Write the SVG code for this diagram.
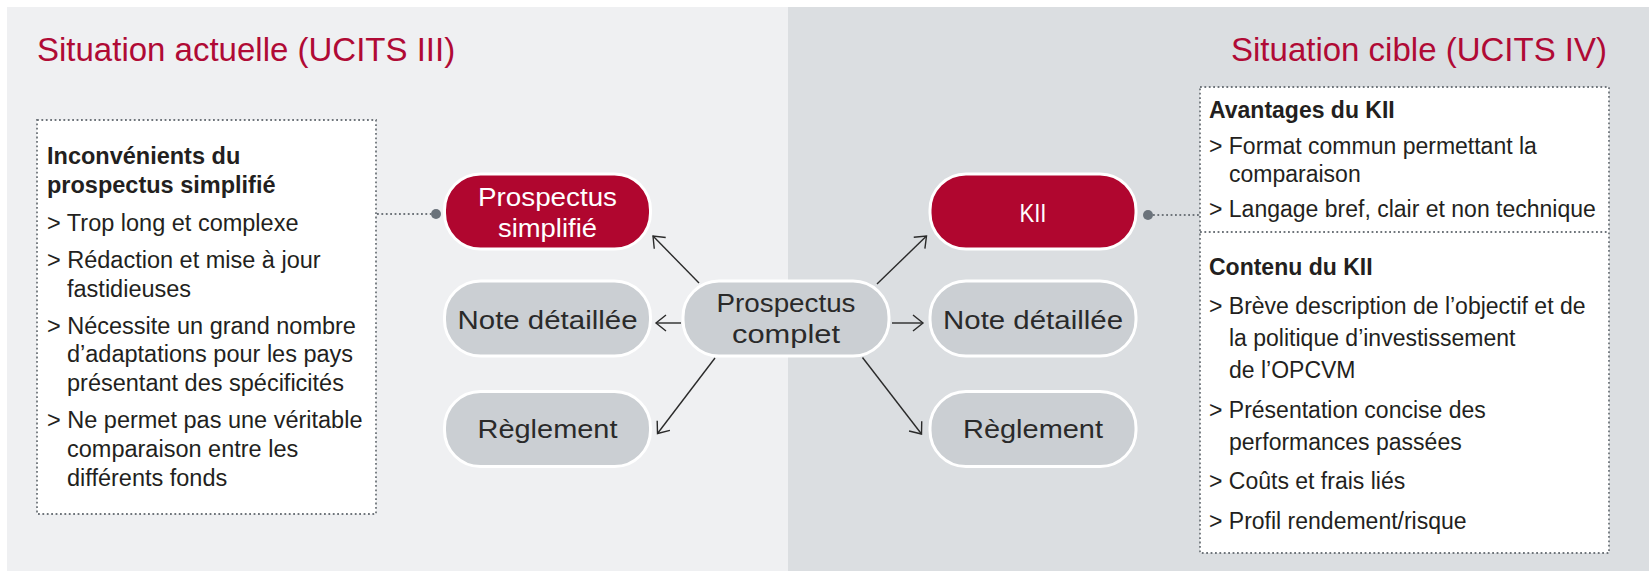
<svg xmlns="http://www.w3.org/2000/svg" width="1649" height="571" viewBox="0 0 1649 571">
<defs>
<style>
.title{font-family:"Liberation Sans",Arial,sans-serif;font-size:33px;fill:#b00a35}
.box{fill:#ffffff;stroke:#6f757b;stroke-width:1.8;stroke-dasharray:1.8 2.6}
.dot{fill:none;stroke:#6f757b;stroke-width:1.8;stroke-dasharray:1.8 2.6}
.txt{font-family:"Liberation Sans",Arial,sans-serif;font-size:23.5px;fill:#231f20}
.txtr{font-family:"Liberation Sans",Arial,sans-serif;font-size:23px;fill:#231f20}
.b{font-weight:bold}
.pillR{fill:#b0062f;stroke:#ffffff;stroke-width:3}
.pillG{fill:#cbcfd3;stroke:#ffffff;stroke-width:3}
.lblW{font-family:"Liberation Sans",Arial,sans-serif;font-size:26px;fill:#ffffff;text-anchor:middle}
.lblD{font-family:"Liberation Sans",Arial,sans-serif;font-size:26px;fill:#2a2a2a;text-anchor:middle}
.con{fill:none;stroke:#2a2a2a;stroke-width:1.4;marker-end:url(#arr)}
.pin{fill:#6b737b}
</style>
<marker id="arr" markerUnits="userSpaceOnUse" orient="auto" refX="0" refY="0" markerWidth="30" markerHeight="30" viewBox="-15 -15 30 30" overflow="visible">
<path d="M -10 -8 L 0 0 L -10 8" fill="none" stroke="#2a2a2a" stroke-width="1.4"/>
</marker>
</defs>

<g id="background">
<rect x="0" y="0" width="1649" height="571" fill="#ffffff"/>
<rect x="7" y="7" width="781" height="564" fill="#eff0f2"/>
<rect x="788" y="7" width="861" height="564" fill="#dbdee1"/>
</g>

<g id="titles">
<text class="title" x="37" y="61">Situation actuelle (UCITS III)</text>
<text class="title" x="1607" y="61" text-anchor="end">Situation cible (UCITS IV)</text>
</g>

<g id="box-inconvenients">
<rect class="box" x="37" y="120" width="339" height="394"/>
<text class="txt b" x="47" y="164">Inconvénients du</text>
<text class="txt b" x="47" y="193">prospectus simplifié</text>
<text class="txt" x="47" y="231">&gt; Trop long et complexe</text>
<text class="txt" x="47" y="268">&gt; Rédaction et mise à jour</text>
<text class="txt" x="67" y="297">fastidieuses</text>
<text class="txt" x="47" y="334">&gt; Nécessite un grand nombre</text>
<text class="txt" x="67" y="362">d’adaptations pour les pays</text>
<text class="txt" x="67" y="391">présentant des spécificités</text>
<text class="txt" x="47" y="428">&gt; Ne permet pas une véritable</text>
<text class="txt" x="67" y="457">comparaison entre les</text>
<text class="txt" x="67" y="486">différents fonds</text>
</g>

<g id="box-kii">
<rect class="box" x="1200" y="87" width="409" height="466"/>
<line class="dot" x1="1200" y1="232" x2="1609" y2="232"/>
<text class="txtr b" x="1209" y="118">Avantages du KII</text>
<text class="txtr" x="1209" y="154">&gt; Format commun permettant la</text>
<text class="txtr" x="1229" y="182">comparaison</text>
<text class="txtr" x="1209" y="217">&gt; Langage bref, clair et non technique</text>
<text class="txtr b" x="1209" y="275">Contenu du KII</text>
<text class="txtr" x="1209" y="314">&gt; Brève description de l’objectif et de</text>
<text class="txtr" x="1229" y="346">la politique d’investissement</text>
<text class="txtr" x="1229" y="378">de l’OPCVM</text>
<text class="txtr" x="1209" y="418">&gt; Présentation concise des</text>
<text class="txtr" x="1229" y="450">performances passées</text>
<text class="txtr" x="1209" y="489">&gt; Coûts et frais liés</text>
<text class="txtr" x="1209" y="529">&gt; Profil rendement/risque</text>
</g>

<g id="node-prospectus-simplifie">
<rect class="pillR" x="444.5" y="174" width="206" height="75" rx="36" ry="36"/>
<text class="lblW" x="547.5" y="206" textLength="139" lengthAdjust="spacingAndGlyphs">Prospectus</text>
<text class="lblW" x="547.5" y="237" textLength="99" lengthAdjust="spacingAndGlyphs">simplifié</text>
</g>

<g id="node-note-left">
<rect class="pillG" x="444.5" y="281" width="206" height="75" rx="36" ry="36"/>
<text class="lblD" x="547.5" y="329" textLength="180" lengthAdjust="spacingAndGlyphs">Note détaillée</text>
</g>

<g id="node-reglement-left">
<rect class="pillG" x="444.5" y="391.5" width="206" height="75" rx="36" ry="36"/>
<text class="lblD" x="547.5" y="438" textLength="140" lengthAdjust="spacingAndGlyphs">Règlement</text>
</g>

<g id="node-prospectus-complet">
<rect class="pillG" x="683" y="281" width="206" height="75" rx="36" ry="36"/>
<text class="lblD" x="786" y="312" textLength="139" lengthAdjust="spacingAndGlyphs">Prospectus</text>
<text class="lblD" x="786" y="343" textLength="108" lengthAdjust="spacingAndGlyphs">complet</text>
</g>

<g id="node-kii">
<rect class="pillR" x="930" y="174" width="206" height="75" rx="36" ry="36"/>
<text class="lblW" x="1033" y="221.5" textLength="27" lengthAdjust="spacingAndGlyphs">KII</text>
</g>

<g id="node-note-right">
<rect class="pillG" x="930" y="281" width="206" height="75" rx="36" ry="36"/>
<text class="lblD" x="1033" y="329" textLength="180" lengthAdjust="spacingAndGlyphs">Note détaillée</text>
</g>

<g id="node-reglement-right">
<rect class="pillG" x="930" y="391.5" width="206" height="75" rx="36" ry="36"/>
<text class="lblD" x="1033" y="438" textLength="140" lengthAdjust="spacingAndGlyphs">Règlement</text>
</g>

<g id="connectors">
<line class="con" x1="699" y1="283" x2="653" y2="236"/>
<line class="con" x1="681" y1="323" x2="656" y2="323"/>
<line class="con" x1="715" y1="358" x2="657.5" y2="433.5"/>
<line class="con" x1="877" y1="284" x2="926.5" y2="236"/>
<line class="con" x1="892" y1="323" x2="923" y2="323"/>
<line class="con" x1="862.5" y1="357.5" x2="921.5" y2="434"/>
<line class="dot" x1="377" y1="214" x2="431" y2="214"/>
<circle class="pin" cx="436" cy="214" r="5"/>
<line class="dot" x1="1153" y1="215" x2="1199" y2="215"/>
<circle class="pin" cx="1148" cy="215" r="5"/>
</g>
</svg>
